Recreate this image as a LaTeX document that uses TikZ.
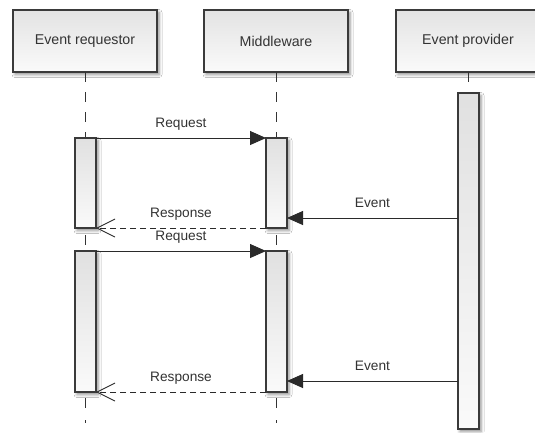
\documentclass[tikz,border=0pt]{standalone}
\usepackage{fontspec}
\setmainfont{Liberation Sans}
\usetikzlibrary{arrows.meta,shadows.blur}

\definecolor{linegray}{HTML}{3A3A3A}
\definecolor{txtgray}{HTML}{333333}
\definecolor{msggray}{HTML}{2A2A2A}

\begin{document}
\begin{tikzpicture}[x=1pt,y=-1pt,
  softshadow/.style={blur shadow={shadow xshift=2pt, shadow yshift=-2.5pt,
      shadow blur radius=3pt, shadow opacity=45}},
  lifebox/.style={draw=linegray, line width=1.1pt, top color=black!11,
      bottom color=black!2, inner sep=0pt, outer sep=0pt, anchor=north west,
      minimum width=144pt, minimum height=62pt, text=txtgray,
      font=\fontsize{14.2}{17}\selectfont, softshadow},
  actbar/.style={draw=linegray, line width=1.1pt, top color=black!12,
      bottom color=black!2, inner sep=0pt, outer sep=0pt, anchor=north west,
      minimum width=21pt, softshadow},
  lifeline/.style={draw=black!80, line width=1pt, dash pattern=on 10pt off 10pt},
  msg/.style={draw=msggray, line width=0.9pt},
  call/.style={msg, -{Triangle[length=16pt,width=14pt]}},
  reply/.style={msg, dash pattern=on 6pt off 4pt,
      -{Straight Barb[length=18pt,width=18pt,line width=0.9pt]}},
  lbl/.style={text=txtgray, font=\fontsize{13.7}{16}\selectfont,
      anchor=base, yshift=11pt, inner sep=0pt},
]
\useasboundingbox[fill=white] (0,0) rectangle (535,432);

% participants
\node[lifebox] (req) at (13,10)  {Event requestor};
\node[lifebox] (mid) at (204,10) {Middleware};
\node[lifebox] (pro) at (396,10) {Event provider};

% helper heights for lifeline pieces
\coordinate (gapA) at (0,235);
\coordinate (gapB) at (0,245);
\coordinate (tailA) at (0,398);
\coordinate (tailB) at (0,423);
\coordinate (ev1) at (0,218);
\coordinate (ev2) at (0,381);

% lifelines (drawn first, bars cover them)
\draw[lifeline] (req.south) -- (req.south |- 0,138);
\draw[lifeline] (mid.south) -- (mid.south |- 0,138);
\draw[lifeline] (pro.south) -- (pro.south |- 0,93);
\draw[lifeline] (req.south |- gapA) -- (req.south |- gapB);
\draw[lifeline] (mid.south |- gapA) -- (mid.south |- gapB);
\draw[lifeline, dash pattern=on 10pt off 12pt] (req.south |- tailA) -- (req.south |- tailB);
\draw[lifeline, dash pattern=on 10pt off 12pt] (mid.south |- tailA) -- (mid.south |- tailB);

% activation bars
\node[actbar, minimum height=90pt]  (rq1) at (75,138)  {};
\node[actbar, minimum height=90pt]  (md1) at (266,138) {};
\node[actbar, minimum height=141pt] (rq2) at (75,251)  {};
\node[actbar, minimum height=141pt] (md2) at (266,251) {};
\node[actbar, minimum height=336pt] (pv)  at (458,93)  {};

% first exchange
\draw[call]  (rq1.north east) -- node[lbl] {Request}  (md1.north west);
\draw[call]  (pv.west |- ev1) -- node[lbl] {Event}    (md1.east |- ev1);
\draw[reply] (md1.south west) -- node[lbl] {Response} (rq1.south east);

% second exchange
\draw[call]  (rq2.north east) -- node[lbl] {Request}  (md2.north west);
\draw[call]  (pv.west |- ev2) -- node[lbl] {Event}    (md2.east |- ev2);
\draw[reply] (md2.south west) -- node[lbl] {Response} (rq2.south east);
\end{tikzpicture}
\end{document}
